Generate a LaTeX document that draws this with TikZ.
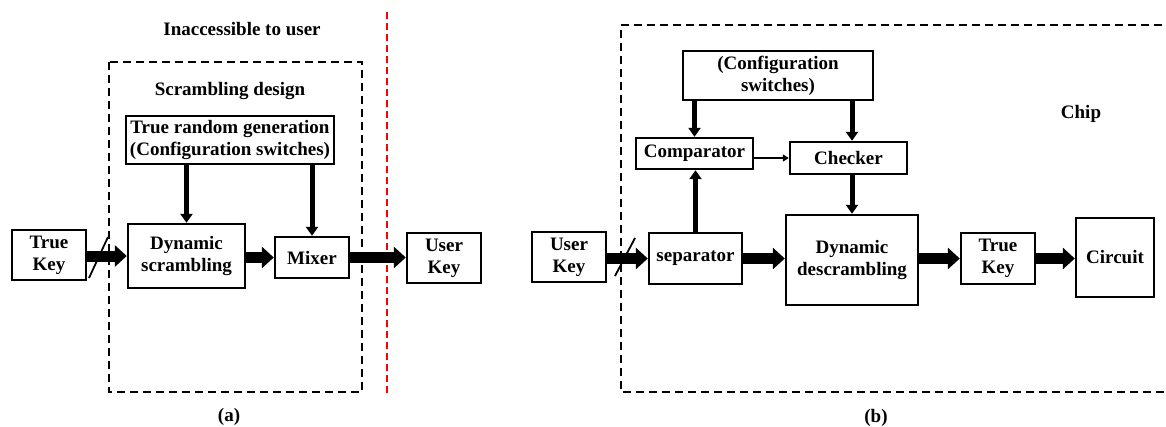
\documentclass[tikz,border=0pt]{standalone}
\usepackage{fontspec}
\setmainfont{Liberation Serif}
\usetikzlibrary{arrows.meta}
\begin{document}
\begin{tikzpicture}[x=1pt,y=-1pt,
  font=\fontsize{19}{22}\selectfont\bfseries,
  blk/.style={draw,line width=2.4pt,inner sep=0pt,align=center,minimum width=#1},
  blk/.default=74pt,
  lbl/.style={inner sep=0pt,align=center},
  bigarrow/.style={line width=11pt,-{Triangle[length=12pt,width=21pt]}},
  midarrow/.style={line width=5pt,-{Triangle[length=9pt,width=12pt]}},
  thinarrow/.style={line width=2pt,-{Triangle[length=6pt,width=7pt]}},
  slashline/.style={line width=1.8pt},
  dashbox/.style={line width=2pt,dash pattern=on 8pt off 5pt},
  reddash/.style={line width=2.4pt,red,dash pattern=on 7pt off 4pt}]
\useasboundingbox (0,0) rectangle (1166,426);
\clip (0,0) rectangle (1166,426);

% ---------------- panel (a)
\draw[dashbox] (109,62) rectangle (362,392);
\draw[reddash] (387,12) -- (387,395);
\node[lbl] (inacc) at (242,29) {Inaccessible to user};
\node[lbl] (scd) at (230,91) {Scrambling design};
\node[lbl] (capa) at (229,417) {(a)};

\node[blk=208pt,minimum height=48pt] (trg) at (230,140) {True random generation\\(Configuration switches)};
\node[blk,minimum height=50pt] (tka) at (49,255) {True\\Key};
\node[blk=117pt,minimum height=64pt] (ds) at (186.5,256) {Dynamic\\scrambling};
\node[blk,minimum height=41pt] (mix) at (312,257.5) {Mixer};
\node[blk,minimum height=50pt] (uka) at (444,258) {User\\Key};

\draw[bigarrow] (tka.east |- ds.west) -- (ds.west);
\draw[bigarrow] (ds.east |- mix.west) -- (mix.west);
\draw[bigarrow] (mix.east) -- (mix.east -| uka.west);
\draw[midarrow] (trg.south -| ds) -- (ds.north);
\draw[midarrow] (trg.south -| mix) -- (mix.north);
\coordinate (sa1) at (89,278);
\coordinate (sa2) at (108,237);
\draw[slashline] (sa1) -- (sa2);

% ---------------- panel (b)
\draw[dashbox] (1175,25) -- (621,25) -- (621,392) -- (1175,392);
\node[lbl] (chip) at (1081,114) {Chip};
\node[lbl] (capb) at (876,418) {(b)};

\node[blk=190pt,minimum height=49pt] (conf) at (778,75.5) {(Configuration\\switches)};
\node[blk=117pt,minimum height=31pt] (comp) at (694.5,153.5) {Comparator};
\node[blk=117pt,minimum height=32pt] (chk) at (848.5,158) {Checker};
\node[blk,minimum height=50pt] (ukb) at (569,257) {User\\Key};
\node[blk=93pt,minimum height=51pt] (sep) at (695.5,258.5) {separator};
\node[blk=132pt,minimum height=90pt] (dd) at (852,260) {Dynamic\\descrambling};
\node[blk,minimum height=51pt] (tkb) at (998,258.5) {True\\Key};
\node[blk=78pt,minimum height=79pt] (circ) at (1115,257.5) {Circuit};

\draw[bigarrow] (ukb.east |- sep.west) -- (sep.west);
\draw[bigarrow] (sep.east) -- (sep.east -| dd.west);
\draw[bigarrow] (dd.east |- tkb.west) -- (tkb.west);
\draw[bigarrow] (tkb.east) -- (tkb.east -| circ.west);
\draw[midarrow] (conf.south -| comp) -- (comp.north);
\draw[midarrow] (conf.south -| dd) -- (chk.north -| dd);
\draw[midarrow] (chk.south -| dd) -- (dd.north);
\draw[midarrow] (sep.north) -- (sep.north |- comp.south);
\draw[thinarrow] (comp.east |- chk.west) -- (chk.west);
\coordinate (sb1) at (615,276);
\coordinate (sb2) at (635,238);
\draw[slashline] (sb1) -- (sb2);
\end{tikzpicture}
\end{document}
